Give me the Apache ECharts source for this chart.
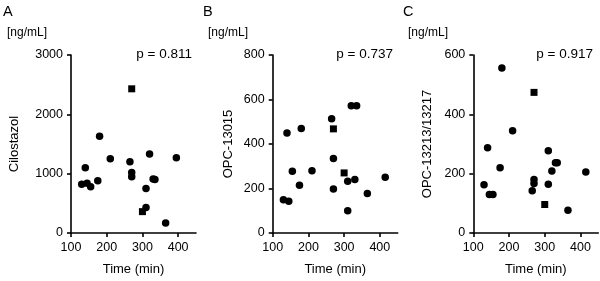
<!DOCTYPE html>
<html><head><meta charset="utf-8">
<script src="https://cdn.jsdelivr.net/npm/echarts@6/dist/echarts.min.js"></script>
<style>html,body{margin:0;padding:0;background:#fff}#c{width:600px;height:281px}</style>
</head><body><div id="c"></div>
<script>
const panelLetters = ['A','B','C'];
const yNames = ['Cilostazol','OPC-13015','OPC-13213/13217'];
const pValues = ['p = 0.811','p = 0.737','p = 0.917'];
const yMax = [3000, 800, 600];
const yInterval = [1000, 200, 200];
const xTicks = [100, 200, 300, 400];

const timeA = [130,140,145,155,175,180,210,265,270,270,310,310,320,330,335,365,395];
const cilostazol = [820,1100,840,780,880,1630,1250,1200,1020,950,750,430,1330,910,900,170,1270];
const timeASq = [270,300];
const cilostazolSq = [2430,360];

const timeB = [130,140,145,155,175,180,210,265,270,270,310,310,320,335,330,365,415];
const opc13015 = [150,450,143,278,215,470,280,513,335,198,233,100,572,572,241,177,251];
const timeBSq = [270,300];
const opc13015Sq = [468,270];

const timeC = [130,140,145,155,175,180,210,265,270,270,310,310,320,330,335,365,415];
const opc13213 = [163,287,130,130,220,556,345,142,180,167,164,277,209,237,237,77,206];
const timeCSq = [270,300];
const opc13213Sq = [474,96];

const circles = [[timeA,cilostazol],[timeB,opc13015],[timeC,opc13213]];
const squares = [[timeASq,cilostazolSq],[timeBSq,opc13015Sq],[timeCSq,opc13213Sq]];

const font = 'Liberation Sans, Arial, sans-serif';
const gridLeft = [71, 272.7, 473.3];
const gridW = 125;
const nameGaps = [50, 38, 39];

const zip = (a,b) => a.map((v,i)=>[v,b[i]]);
const grids = [], xAxes = [], yAxes = [], series = [], graphics = [];
for (let i=0;i<3;i++){
  grids.push({left:gridLeft[i], top:55, width:gridW, height:178});
  const axisLine = {lineStyle:{color:'#000', width:1.6}};
  xAxes.push({type:'value', gridIndex:i, min:100, max:450, interval:100,
    axisLine: axisLine, splitLine:{show:false},
    axisTick:{show:true, length:4, lineStyle:{color:'#000', width:1.6}, customValues:xTicks},
    axisLabel:{color:'#000', fontSize:12.5, fontFamily:font, margin:8, customValues:xTicks, formatter: v => String(v)},
    name:'Time (min)', nameLocation:'middle', nameGap:30,
    nameTextStyle:{color:'#000', fontSize:13, fontFamily:font}});
  yAxes.push({type:'value', gridIndex:i, min:0, max:yMax[i], interval:yInterval[i],
    axisLine: Object.assign({show:true}, axisLine), splitLine:{show:false},
    axisTick:{show:true, length:4, lineStyle:{color:'#000', width:1.6}},
    axisLabel:{color:'#000', fontSize:12.5, fontFamily:font, margin:8, formatter: v => String(v)},
    name:yNames[i], nameLocation:'middle', nameGap:nameGaps[i],
    nameTextStyle:{color:'#000', fontSize:13, fontFamily:font}});
  series.push({type:'scatter', xAxisIndex:i, yAxisIndex:i, symbol:'circle', symbolSize:7.5,
    itemStyle:{color:'#000', opacity:1}, data: zip(circles[i][0], circles[i][1]), silent:true});
  series.push({type:'scatter', xAxisIndex:i, yAxisIndex:i, symbol:'rect', symbolSize:7,
    itemStyle:{color:'#000', opacity:1}, data: zip(squares[i][0], squares[i][1]), silent:true});
  graphics.push({type:'text', left: i*200 + 3, top:4,
    style:{text:panelLetters[i], fontSize:14.5, fontFamily:font, fill:'#000'}});
  graphics.push({type:'text', left: i*200 + 7 + (i===0?0:1), top:27,
    style:{text:'[ng/mL]', fontSize:12, fontFamily:font, fill:'#000'}});
  graphics.push({type:'text', right: 600 - (i*200 + 192 + (i===0?0:1)), top:47,
    style:{text:pValues[i], fontSize:13.5, fontFamily:font, fill:'#000'}});
}
const chart = echarts.init(document.getElementById('c'), null, {renderer:'canvas'});
chart.setOption({animation:false, backgroundColor:'#fff', grid:grids, xAxis:xAxes, yAxis:yAxes, series:series, graphic:graphics});
</script></body></html>
